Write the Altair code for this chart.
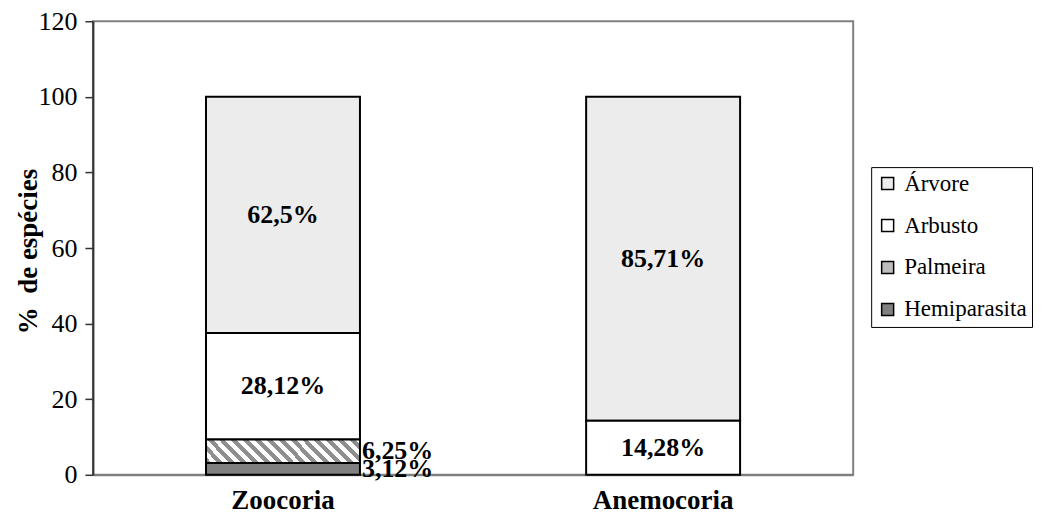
import altair as alt
import pandas as pd

categories = ["Zoocoria", "Anemocoria"]
habits = ["Árvore", "Arbusto", "Palmeira", "Hemiparasita"]
zoocoria_values = [62.5, 28.12, 6.25, 3.12]
anemocoria_values = [85.71, 14.28, 0, 0]
zoocoria_labels = ["62,5%", "28,12%", "6,25%", "3,12%"]
anemocoria_labels = ["85,71%", "14,28%", "", ""]
y_ticks = [0, 20, 40, 60, 80, 100, 120]

habit_colors = ["#ececec", "#ffffff", "#bdbdbd", "#808080"]

rows = []
for cat, vals, labs in [(categories[0], zoocoria_values, zoocoria_labels),
                        (categories[1], anemocoria_values, anemocoria_labels)]:
    for i, (h, v, l) in enumerate(zip(habits, vals, labs)):
        if v > 0:
            rows.append(dict(cat=cat, habit=h, value=v, label=l, ord=len(habits) - 1 - i))
df = pd.DataFrame(rows)

FONT = "Liberation Serif"

# diagonal hatch for Palmeira, built as a striped linear gradient
N = 15
stops = []
for k in range(N):
    stops += [
        {"offset": k / N, "color": "#8f8f8f"},
        {"offset": (k + 0.5) / N, "color": "#8f8f8f"},
        {"offset": (k + 0.5) / N, "color": "#ffffff"},
        {"offset": (k + 1) / N, "color": "#ffffff"},
    ]
stripe = {"gradient": "linear", "x1": 0, "y1": 1, "x2": 1.13, "y2": 0.83, "stops": stops}

base = alt.Chart(df).transform_stack(
    stack="value", groupby=["cat"], as_=["y0", "y1"],
    sort=[alt.SortField("ord", order="ascending")]
).transform_calculate(mid="(datum.y0 + datum.y1) / 2")

x_axis = alt.Axis(title=None, labelFont=FONT, labelFontSize=27, labelFontWeight="bold",
                  labelColor="black", labelAngle=0, ticks=False, domainColor="#808080",
                  domainWidth=2, labelPadding=13)
x_enc = alt.X("cat:N", sort=categories,
              scale=alt.Scale(paddingInner=0.595, paddingOuter=0.2975), axis=x_axis)

y_axis = alt.Axis(values=y_ticks, title="%\u00a0 de espécies", titleFont=FONT,
                  titleFontSize=27, titleFontWeight="bold", titleColor="black",
                  titleX=-64, titleY=230, titleAngle=-90, titleBaseline="middle",
                  labelFont=FONT, labelFontSize=26, labelColor="black",
                  tickSize=8, tickColor="#333333", tickWidth=1.5,
                  labelPadding=8, grid=False, domainColor="#333333", domainWidth=2)
y_scale = alt.Scale(domain=[0, 120], nice=False)

bars = base.mark_bar(stroke="black", strokeWidth=2).encode(
    x=x_enc,
    y=alt.Y("y0:Q", scale=y_scale, axis=y_axis),
    y2="y1:Q",
    fill=alt.condition(
        alt.datum.habit == "Palmeira",
        alt.value(stripe),
        alt.Fill("habit:N", sort=habits,
                 scale=alt.Scale(domain=habits, range=habit_colors),
                 legend=alt.Legend(title=None, orient="none", legendX=779, legendY=146,
                                   labelFont=FONT, labelFontSize=23, labelColor="black",
                                   symbolType="square", symbolSize=144,
                                   symbolStrokeColor="black", symbolStrokeWidth=1.5,
                                   strokeColor="black", padding=5, rowPadding=18,
                                   labelOffset=5)),
    ),
)

text_inside = base.transform_filter("datum.value >= 10").mark_text(
    font=FONT, fontSize=26, fontWeight="bold", color="black", baseline="middle"
).encode(x=x_enc, y=alt.Y("mid:Q", scale=y_scale, axis=y_axis), text="label:N")

text_outside = base.transform_filter("datum.value < 10").mark_text(
    font=FONT, fontSize=26, fontWeight="bold", color="black", baseline="middle",
    align="left", dx=79
).encode(x=x_enc, y=alt.Y("mid:Q", scale=y_scale, axis=y_axis), text="label:N")

chart = alt.layer(bars, text_inside, text_outside).properties(
    width=761, height=454,
    autosize=alt.AutoSizeParams(type="none"),
    padding={"left": 85, "top": 13, "right": 183, "bottom": 46},
).configure_view(stroke="#808080", strokeWidth=2)

chart.save("out.html", embed_options={"renderer": "svg", "actions": False})
